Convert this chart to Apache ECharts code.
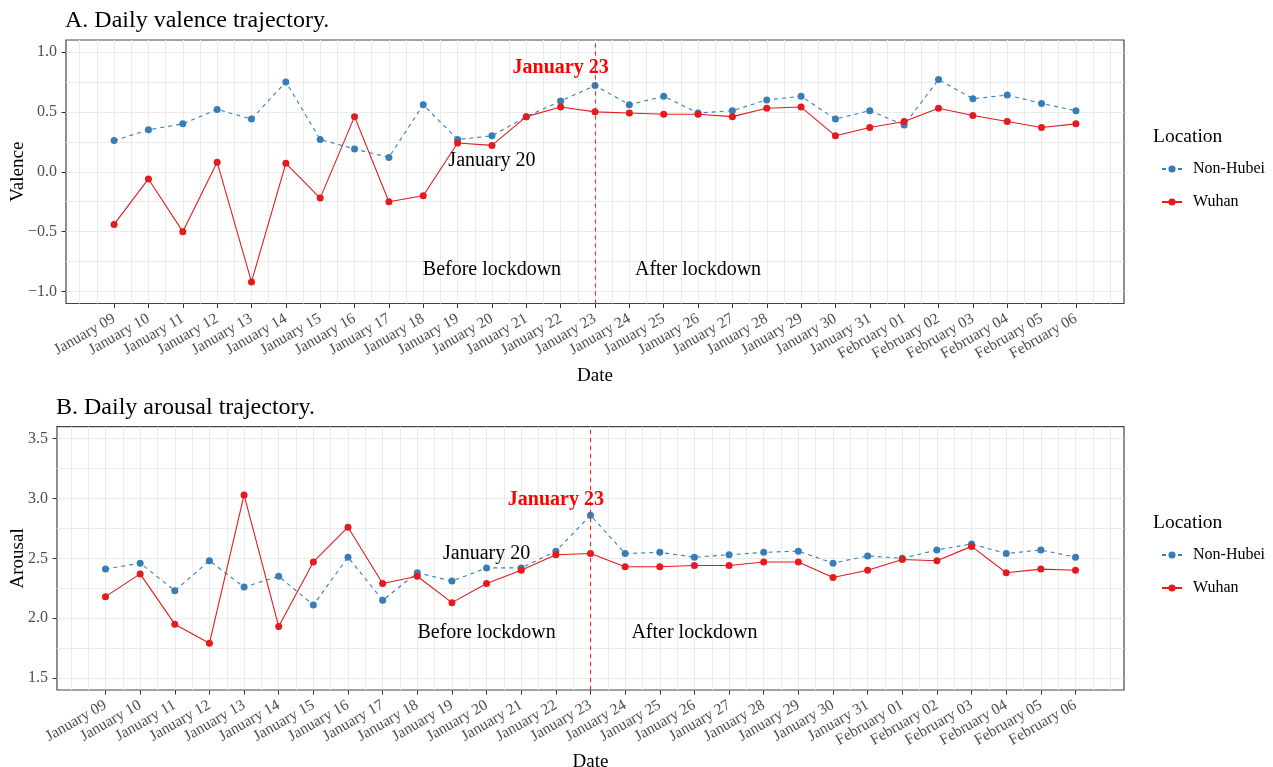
<!DOCTYPE html>
<html>
<head>
<meta charset="utf-8">
<script src="https://cdn.jsdelivr.net/npm/echarts@6/dist/echarts.min.js"></script>
<style>
html,body{margin:0;padding:0;background:#fff;}
#chart{width:1273px;height:767px;}
</style>
</head>
<body>
<div id="chart"></div>
<script>
const dates = ['January 09','January 10','January 11','January 12','January 13','January 14','January 15','January 16','January 17','January 18','January 19','January 20','January 21','January 22','January 23','January 24','January 25','January 26','January 27','January 28','January 29','January 30','January 31','February 01','February 02','February 03','February 04','February 05','February 06'];
const valenceNonHubei = [0.26, 0.35, 0.40, 0.52, 0.44, 0.75, 0.27, 0.19, 0.12, 0.56, 0.27, 0.30, 0.46, 0.59, 0.72, 0.56, 0.63, 0.49, 0.51, 0.60, 0.63, 0.44, 0.51, 0.39, 0.77, 0.61, 0.64, 0.57, 0.51];
const valenceWuhan = [-0.44, -0.06, -0.50, 0.08, -0.92, 0.07, -0.22, 0.46, -0.25, -0.20, 0.24, 0.22, 0.46, 0.54, 0.50, 0.49, 0.48, 0.48, 0.46, 0.53, 0.54, 0.30, 0.37, 0.42, 0.53, 0.47, 0.42, 0.37, 0.40];
const arousalNonHubei = [2.41, 2.46, 2.23, 2.48, 2.26, 2.35, 2.11, 2.51, 2.15, 2.38, 2.31, 2.42, 2.42, 2.56, 2.86, 2.54, 2.55, 2.51, 2.53, 2.55, 2.56, 2.46, 2.52, 2.50, 2.57, 2.62, 2.54, 2.57, 2.51];
const arousalWuhan = [2.18, 2.37, 1.95, 1.79, 3.03, 1.93, 2.47, 2.76, 2.29, 2.35, 2.13, 2.29, 2.40, 2.53, 2.54, 2.43, 2.43, 2.44, 2.44, 2.47, 2.47, 2.34, 2.40, 2.49, 2.48, 2.60, 2.38, 2.41, 2.40];
const valenceTicks = [-1.0, -0.5, 0.0, 0.5, 1.0];
const arousalTicks = [1.5, 2.0, 2.5, 3.0, 3.5];
const seriesNames = ['Non-Hubei', 'Wuhan'];
const lockdownDate = 'January 23';

const FONT = '"Liberation Serif","Times New Roman",serif';
const BLUE = '#377EB8';
const RED = '#E41A1C';
const GRIDC = '#ebebeb';
const dateIdx = dates.map((d, i) => i);
const xMin = -1.4, xMax = dates.length - 1 + 1.4;

const chart = echarts.init(document.getElementById('chart'), null, {renderer: 'canvas'});

function fmtY(v) { return v.toFixed(1).replace('-', '\u2212'); }

function makeXAxes(gridIndex) {
  return [
    {
      type: 'value', gridIndex, min: xMin, max: xMax, minInterval: 1, maxInterval: 1,
      axisLine: {show: false, onZero: false},
      axisTick: {show: true, customValues: dateIdx, length: 4.5, lineStyle: {color: '#333', width: 1}},
      axisLabel: {show: true, customValues: dateIdx, rotate: 30, margin: 14, fontFamily: FONT, fontSize: 15.5, color: '#4d4d4d',
        formatter: v => (Number.isInteger(v) && v >= 0 && v < dates.length) ? dates[v] : ''},
      splitLine: {show: false},
      name: 'Date', nameLocation: 'middle', nameGap: 63, nameMoveOverlap: false,
      nameTextStyle: {fontFamily: FONT, fontSize: 19, color: '#000'}
    },
    {
      type: 'value', gridIndex, position: 'top', min: xMin, max: xMax, minInterval: 0.5, maxInterval: 0.5,
      axisLine: {show: false, onZero: false}, axisTick: {show: false}, axisLabel: {show: false},
      splitLine: {show: true, showMinLine: false, showMaxLine: false, lineStyle: {color: GRIDC, width: 1}}
    }
  ];
}

function makeYAxes(gridIndex, min, max, ticks, name, gap) {
  return [
    {
      type: 'value', gridIndex, position: 'left', min, max, minInterval: 0.5, maxInterval: 0.5,
      axisLine: {show: false, onZero: false},
      axisTick: {show: true, customValues: ticks, length: 4.5, lineStyle: {color: '#333', width: 1}},
      axisLabel: {show: true, customValues: ticks, margin: 9, fontFamily: FONT, fontSize: 16, color: '#4d4d4d', formatter: fmtY},
      splitLine: {show: false},
      name, nameLocation: 'middle', nameGap: gap, nameRotate: 90, nameMoveOverlap: false,
      nameTextStyle: {fontFamily: FONT, fontSize: 19, color: '#000'}
    },
    {
      type: 'value', gridIndex, position: 'right', min, max, minInterval: 0.25, maxInterval: 0.25,
      axisLine: {show: false, onZero: false}, axisTick: {show: false}, axisLabel: {show: false},
      splitLine: {show: true, showMinLine: false, showMaxLine: false, lineStyle: {color: GRIDC, width: 1}}
    }
  ];
}

function lineSeries(name, values, xi, yi, color, dashed, withMark) {
  const s = {
    type: 'line', name, xAxisIndex: xi, yAxisIndex: yi,
    data: values.map((v, i) => [i, v]),
    symbol: 'circle', symbolSize: 7,
    itemStyle: {color},
    lineStyle: {color, width: 1.1, type: dashed ? [4, 4] : 'solid'},
    emphasis: {disabled: true}, animation: false, z: dashed ? 3 : 4
  };
  if (withMark) {
    s.markLine = {
      silent: true, symbol: 'none', animation: false,
      label: {show: false},
      lineStyle: {color: '#ff2020', type: [4, 4], width: 1.1},
      data: [{xAxis: dates.indexOf(lockdownDate)}]
    };
  }
  return s;
}

function textSeries(xi, yi, x, y, text, opts) {
  return {
    type: 'scatter', name: '_t', xAxisIndex: xi, yAxisIndex: yi,
    data: [[x, y]], symbolSize: 2, itemStyle: {color: 'rgba(255,255,255,0)'}, silent: true, animation: false, z: 6,
    label: Object.assign({show: true, position: [1, 1], align: 'center', verticalAlign: 'middle', formatter: text,
      fontFamily: FONT, fontSize: 20, color: '#000', textBorderWidth: 0, opacity: 1}, opts || {})
  };
}

const option = {
  backgroundColor: '#fff',
  animation: false,
  title: [
    {text: 'A. Daily valence trajectory.', left: 65, top: 9, padding: 0, textStyle: {fontFamily: FONT, fontSize: 24, fontWeight: 'normal', color: '#000'}},
    {text: 'B. Daily arousal trajectory.', left: 56, top: 396, padding: 0, textStyle: {fontFamily: FONT, fontSize: 24, fontWeight: 'normal', color: '#000'}},
    {text: 'Location', left: 1153, top: 127, padding: 0, textStyle: {fontFamily: FONT, fontSize: 19.5, fontWeight: 'normal', color: '#000'}},
    {text: 'Location', left: 1153, top: 513, padding: 0, textStyle: {fontFamily: FONT, fontSize: 19.5, fontWeight: 'normal', color: '#000'}}
  ],
  legend: [
    {data: seriesNames, orient: 'vertical', left: 1161, top: 161, itemWidth: 20, itemHeight: 9, itemGap: 17, padding: 0,
     textStyle: {fontFamily: FONT, fontSize: 16, color: '#000', padding: [0, 0, 0, 6]}, selectedMode: false},
    {data: seriesNames, orient: 'vertical', left: 1161, top: 547, itemWidth: 20, itemHeight: 9, itemGap: 17, padding: 0,
     textStyle: {fontFamily: FONT, fontSize: 16, color: '#000', padding: [0, 0, 0, 6]}, selectedMode: false}
  ],
  grid: [
    {left: 66, top: 40, width: 1058, height: 263.5, show: true, borderColor: '#444', borderWidth: 1.2, backgroundColor: '#fff', outerBoundsMode: 'none', containLabel: false},
    {left: 57, top: 426.7, width: 1067, height: 263.3, show: true, borderColor: '#444', borderWidth: 1.2, backgroundColor: '#fff', outerBoundsMode: 'none', containLabel: false}
  ],
  xAxis: [...makeXAxes(0), ...makeXAxes(1)],
  yAxis: [...makeYAxes(0, -1.1, 1.1, valenceTicks, 'Valence', 38), ...makeYAxes(1, 1.4, 3.6, arousalTicks, 'Arousal', 29)],
  series: [
    lineSeries('Non-Hubei', valenceNonHubei, 0, 0, BLUE, true, false),
    lineSeries('Wuhan', valenceWuhan, 0, 0, RED, false, true),
    lineSeries('Non-Hubei', arousalNonHubei, 2, 2, BLUE, true, false),
    lineSeries('Wuhan', arousalWuhan, 2, 2, RED, false, true),
    textSeries(0, 0, 13, 0.87, 'January 23', {color: '#ff0000', fontWeight: 'bold'}),
    textSeries(0, 0, 11, 0.09, 'January 20'),
    textSeries(0, 0, 11, -0.82, 'Before lockdown'),
    textSeries(0, 0, 17, -0.82, 'After lockdown'),
    textSeries(2, 2, 13, 2.99, 'January 23', {color: '#ff0000', fontWeight: 'bold'}),
    textSeries(2, 2, 11, 2.54, 'January 20'),
    textSeries(2, 2, 11, 1.875, 'Before lockdown'),
    textSeries(2, 2, 17, 1.875, 'After lockdown')
  ]
};
chart.setOption(option);
</script>
</body>
</html>
